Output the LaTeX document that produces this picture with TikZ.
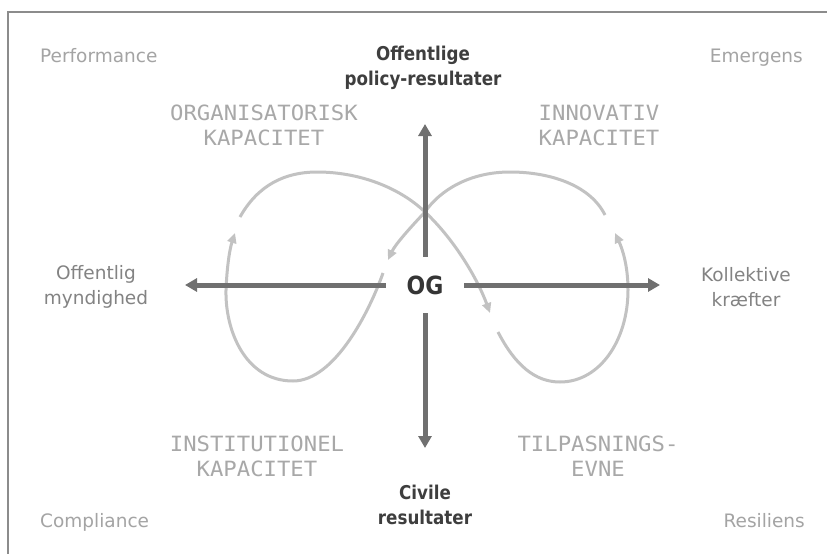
\documentclass[tikz,border=0pt]{standalone}
\usepackage{fontspec}
\setmainfont{DejaVu Sans}
\newfontfamily\headfont[FakeStretch=0.88]{DejaVu Sans}
\newfontfamily\capsfont[FakeStretch=1.06]{DejaVu Sans Mono}
\usetikzlibrary{arrows.meta}

\definecolor{axisgray}{HTML}{707070}
\definecolor{loopgray}{HTML}{C2C2C2}
\definecolor{cornergray}{HTML}{A4A4A4}
\definecolor{capsgray}{HTML}{A8A8A8}
\definecolor{sidegray}{HTML}{838383}
\definecolor{headgray}{HTML}{3E3E3E}
\definecolor{framegray}{HTML}{8C8C8C}

\tikzset{
  axis/.style={line width=5pt, draw=axisgray, -{Triangle[length=12pt,width=13pt]}},
  loopline/.style={line width=3pt, draw=loopgray, -{Triangle[length=10pt,width=9pt]}},
  cornerlabel/.style={inner sep=0pt, text=cornergray, font=\fontsize{18.5}{25}\selectfont},
  sidelabel/.style={inner sep=0pt, align=center, text=sidegray, font=\fontsize{18.5}{25}\selectfont},
  headlabel/.style={inner sep=0pt, align=center, text=headgray, font=\headfont\bfseries\fontsize{19}{25}\selectfont},
  capslabel/.style={inner sep=0pt, align=center, text=capsgray, font=\capsfont\fontsize{21}{25}\selectfont},
}

\begin{document}
\begin{tikzpicture}[x=1pt, y=-1pt]
\useasboundingbox (0,0) rectangle (827,554);
\fill[white] (0,0) rectangle (827,554);

% frame (top and left edges)
\draw[framegray, line width=1.3pt] (8,554) -- (8,12) -- (827,12);

% centre node and axis tips
\node[inner sep=0pt, minimum width=78pt, minimum height=56pt, text=headgray!85!black,
      font=\headfont\bfseries\fontsize{25}{25}\selectfont] (og) at (425,285) {OG};
\coordinate (ntip) at (425,124);
\coordinate (stip) at (425,448);
\coordinate (wtip) at (185,285);
\coordinate (etip) at (660,285);

% the four loop segments (figure eight)
\draw[loopline] (240,217) .. controls (258,185) and (285,172) .. (317,172)
                          .. controls (360,172) and (400,188) .. (425,212)
                          .. controls (455,240) and (478,280) .. (490,313);
\draw[loopline] (498,332) .. controls (515,365) and (535,382) .. (560,382)
                          .. controls (600,382) and (628,340) .. (628,290)
                          .. controls (628,265) and (622,248) .. (615,233);
\draw[loopline] (605,215) .. controls (590,185) and (550,172) .. (510,172)
                          .. controls (470,172) and (440,190) .. (425,212)
                          .. controls (408,230) and (395,245) .. (388,260);
\draw[loopline] (383,273) .. controls (370,310) and (335,381) .. (293,381)
                          .. controls (245,381) and (225,330) .. (226,290)
                          .. controls (227,265) and (230,248) .. (235,233);

% axes
\draw[axis] (og.north) -- (ntip);
\draw[axis] (og.south) -- (stip);
\draw[axis] (og.west) -- (wtip);
\draw[axis] (og.east) -- (etip);

% corner labels
\node[cornerlabel, anchor=base west] (perf) at (40,62) {Performance};
\node[cornerlabel, anchor=base east] (emer) at (803,62) {Emergens};
\node[cornerlabel, anchor=base west] (comp) at (40,527) {Compliance};
\node[cornerlabel, anchor=base east] (resi) at (805,527) {Resiliens};

% axis end labels
\node[headlabel] (policy) at (423,68) {Offentlige\\policy-resultater};
\node[headlabel] (civil) at (425,505) {Civile\\resultater};
\node[sidelabel] (myn) at (96,287) {Offentlig\\myndighed};
\node[sidelabel] (koll) at (746,287) {Kollektive\\kræfter};

% capacity labels
\node[capslabel] (org) at (264,125) {ORGANISATORISK\\KAPACITET};
\node[capslabel] (inno) at (599,125) {INNOVATIV\\KAPACITET};
\node[capslabel] (inst) at (257,456) {INSTITUTIONEL\\KAPACITET};
\node[capslabel] (tilp) at (598,456) {TILPASNINGS-\\EVNE};
\end{tikzpicture}
\end{document}
